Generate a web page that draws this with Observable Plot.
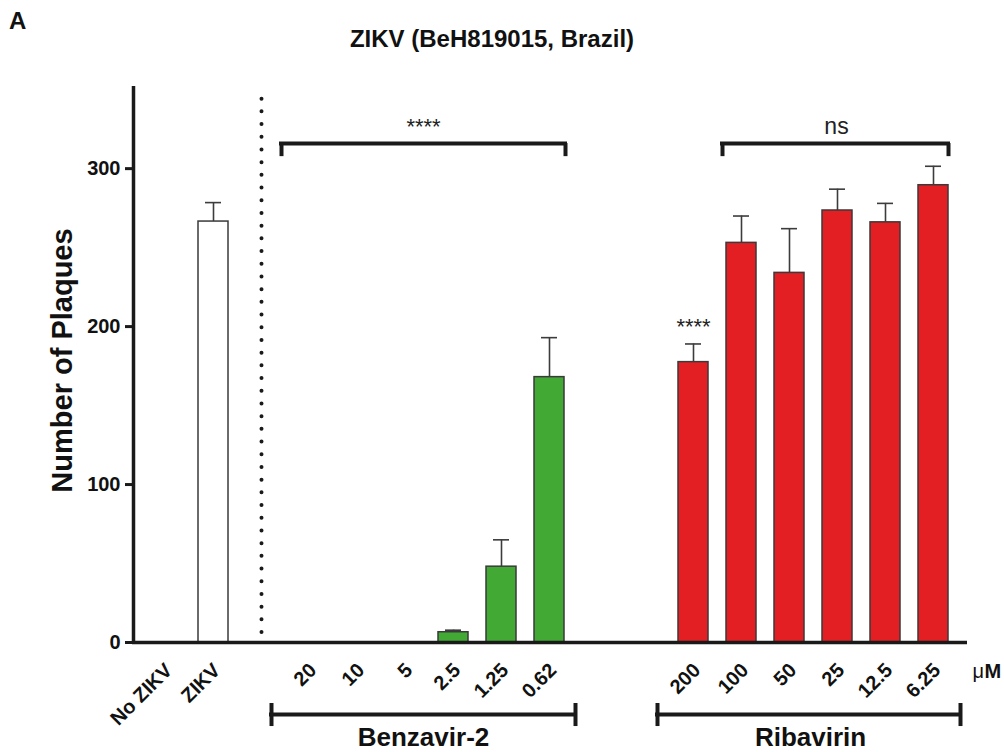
<!DOCTYPE html>
<html>
<head>
<meta charset="utf-8">
<script src="https://cdn.jsdelivr.net/npm/d3@7"></script>
<script src="https://cdn.jsdelivr.net/npm/@observablehq/plot@0.6"></script>
<style>
  body { margin: 0; background: #fff; font-family: "Liberation Sans", Arial, Helvetica, sans-serif; color: #111; }
  #wrap { position: relative; width: 1004px; height: 752px; overflow: hidden; }
  #panel { position: absolute; left: 9px; top: 9px; font-size: 24px; font-weight: bold; line-height: 24px; }
  #title { position: absolute; left: 0; width: 984px; top: 27px; text-align: center; font-size: 24px; font-weight: bold; line-height: 24px; }
  #chart { position: absolute; left: 0; top: 70px; }
  #chart svg { display: block; }
</style>
</head>
<body>
<div id="wrap">
  <div id="panel">A</div>
  <div id="title">ZIKV (BeH819015, Brazil)</div>
  <div id="chart"></div>
</div>
<script>
// ---- data ----
const controlCats = ["No ZIKV", "ZIKV"];
const controlMean = [0, 266.5];
const controlSem  = [0, 12];

const benzCats = ["20", "10", "5", "2.5", "1.25", "0.62"];
const benzMean = [0, 0, 0, 6.5, 48, 168];
const benzSem  = [0, 0, 0, 1.3, 17, 25];

const ribaCats = ["200", "100", "50", "25", "12.5", "6.25"];
const ribaMean = [177.5, 253, 234, 273.5, 266, 289.5];
const ribaSem  = [11.5, 17, 28, 13.5, 12, 12];

const groupNames  = ["Control", "Benzavir-2", "Ribavirin"];
const groupColors = ["#ffffff", "#43a935", "#e31f24"];
const yTicks = [0, 100, 200, 300];
const spacerSlots = ["sep", "gap1", "gap2"];
const unitLabel = ["μ", "M"];

// ---- build table ----
const rows = [
  ...controlCats.map((c, i) => ({cat: c, group: "Control", mean: controlMean[i], sem: controlSem[i]})),
  ...benzCats.map((c, i) => ({cat: c, group: "Benzavir-2", mean: benzMean[i], sem: benzSem[i]})),
  ...ribaCats.map((c, i) => ({cat: c, group: "Ribavirin", mean: ribaMean[i], sem: ribaSem[i]}))
];
const bars = rows.filter(d => d.mean > 0);
const xDomain = [...controlCats, spacerSlots[0], ...benzCats, spacerSlots[1], spacerSlots[2], ...ribaCats];
const labelCats = [...controlCats, ...benzCats, ...ribaCats];

const BW = 30; // band width in px (from layout below)
const ink = "#1a1a1a";

function bracket(from, to, yTop, yEnd1, yEnd2, offL, offR, sw) {
  const d = [{from, to}];
  return [
    Plot.ruleY(d, {x1: "from", x2: "to", y: () => yTop, insetLeft: offL, insetRight: -offR, stroke: ink, strokeWidth: sw}),
    Plot.ruleX(d, {x: "from", y1: () => yEnd1, y2: () => yEnd2, dx: offL - BW / 2 + sw / 2, stroke: ink, strokeWidth: sw}),
    Plot.ruleX(d, {x: "to", y1: () => yEnd1, y2: () => yEnd2, dx: BW / 2 + offR - sw / 2, stroke: ink, strokeWidth: sw})
  ];
}

const font = "'Liberation Sans', Arial, Helvetica, sans-serif";

const chart = Plot.plot({
  width: 1004,
  height: 682,
  marginLeft: 133,
  marginRight: 39,
  marginTop: 16,
  marginBottom: 110,
  x: {type: "band", domain: xDomain, paddingInner: 0.375, paddingOuter: 0.354, axis: null},
  y: {domain: [0, 352], axis: null},
  color: {domain: groupNames, range: groupColors},
  style: {fontFamily: font, background: "transparent", color: "#111", overflow: "visible"},
  marks: [
    // dotted separator
    Plot.ruleX([spacerSlots[0]], {x: d => d, y1: () => 6.3, y2: () => 352, stroke: ink, strokeWidth: 4, strokeDasharray: "0 12.7", strokeLinecap: "round"}),
    // error bars
    Plot.ruleX(bars, {x: "cat", y1: "mean", y2: d => d.mean + d.sem, stroke: "#3c3c3c", strokeWidth: 1.6}),
    Plot.tickY(bars, {x: "cat", y: d => d.mean + d.sem, stroke: "#3c3c3c", strokeWidth: 1.6, insetLeft: 7, insetRight: 7}),
    // bars
    Plot.barY(bars, {x: "cat", y: "mean", fill: "group", stroke: "#3a3a3a", strokeWidth: 1.5}),
    // axes lines
    Plot.ruleY([0], {y: d => d, stroke: ink, strokeWidth: 3.5, insetRight: -2, insetLeft: -1}),
    Plot.ruleX([controlCats[0]], {x: d => d, y1: () => 0, y2: () => 352, dx: -32, stroke: ink, strokeWidth: 3.5}),
    Plot.ruleY(yTicks, {y: d => d, x1: () => controlCats[0], x2: () => controlCats[0], insetLeft: -25, insetRight: 47, stroke: ink, strokeWidth: 3}),
    Plot.text(yTicks, {y: d => d, text: d => `${d}`, frameAnchor: "left", dx: -13, textAnchor: "end", fontSize: 20, fontWeight: "bold", fill: "#111"}),
    Plot.text(["Number of Plaques"], {text: d => d, frameAnchor: "left", dx: -71, dy: -4, rotate: -90, textAnchor: "middle", fontSize: 29, fontWeight: "bold", fill: "#111"}),
    // x tick labels
    Plot.text(labelCats, {x: d => d, y: () => 0, text: d => d, rotate: -45, textAnchor: "end", lineAnchor: "bottom", dx: 8, dy: 29, fontSize: 20, fontWeight: "bold", fill: "#111"}),
    // unit label
    Plot.text([unitLabel[0]], {x: () => ribaCats[5], y: () => 0, text: d => d, dx: 39, dy: 35, textAnchor: "start", lineAnchor: "bottom", fontSize: 20, fill: "#111"}),
    Plot.text([unitLabel[1]], {x: () => ribaCats[5], y: () => 0, text: d => d, dx: 51, dy: 35, textAnchor: "start", lineAnchor: "bottom", fontSize: 20, fontWeight: "bold", fill: "#111"}),
    // significance brackets
    ...bracket(benzCats[0], benzCats[5], 315.9, 307.6, 315.9, -15, 3, 4),
    ...bracket(ribaCats[1], ribaCats[5], 315.9, 307.6, 315.9, -6, 2, 4),
    Plot.text(["****"], {x: () => benzCats[3], y: () => 322.2, text: d => d, dx: -30, lineAnchor: "bottom", fontSize: 22, fill: "#222"}),
    Plot.text(["ns"], {x: () => ribaCats[3], y: () => 322.2, text: d => d, dx: -1, lineAnchor: "bottom", fontSize: 23, fill: "#222"}),
    Plot.text(["****"], {x: () => ribaCats[0], y: () => 195.6, text: d => d, lineAnchor: "bottom", fontSize: 22, fill: "#222"}),
    // group brackets below axis
    ...bracket(benzCats[0], benzCats[5], -45.6, -38.6, -53.2, -25, 13, 4),
    ...bracket(ribaCats[0], ribaCats[5], -45.6, -38.6, -53.2, -23, 14, 4),
    Plot.text([groupNames[1]], {x: () => benzCats[2], y: () => 0, text: d => d, dx: 18, dy: 103, lineAnchor: "bottom", fontSize: 26, fontWeight: "bold", fill: "#111"}),
    Plot.text([groupNames[2]], {x: () => ribaCats[2], y: () => 0, text: d => d, dx: 21, dy: 103, lineAnchor: "bottom", fontSize: 26, fontWeight: "bold", fill: "#111"})
  ]
});
document.getElementById("chart").appendChild(chart);
</script>
</body>
</html>
